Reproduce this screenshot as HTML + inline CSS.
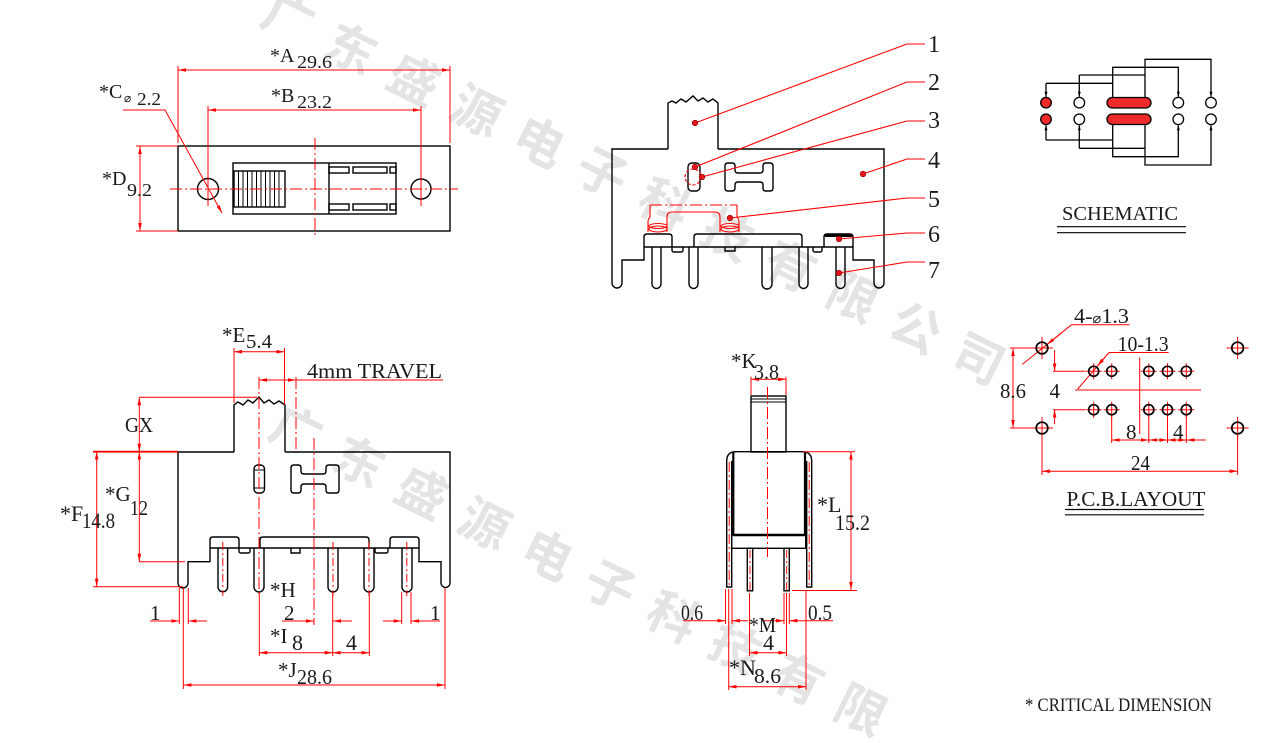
<!DOCTYPE html>
<html><head><meta charset="utf-8">
<style>
html,body{margin:0;padding:0;background:#fff;width:1267px;height:743px;overflow:hidden;}
svg{display:block;}
text{font-family:"Liberation Serif",serif;fill:#1a1a1a;}
.wm{font-family:"Liberation Sans","Noto Sans CJK SC","WenQuanYi Zen Hei",sans-serif;font-weight:700;fill:#e4e4e4;font-size:50px;}
</style></head><body>
<svg width="1267" height="743" viewBox="0 0 1267 743" xmlns="http://www.w3.org/2000/svg" overflow="hidden">
<defs>
<marker id="a" viewBox="0 0 10 6" refX="10" refY="3" markerWidth="8" markerHeight="3.6" markerUnits="userSpaceOnUse" orient="auto-start-reverse" preserveAspectRatio="none"><path d="M0,0L10,3L0,6z" fill="#f00"/></marker>
<marker id="b" viewBox="0 0 10 6" refX="10" refY="3" markerWidth="5" markerHeight="3" markerUnits="userSpaceOnUse" orient="auto-start-reverse" preserveAspectRatio="none"><path d="M0,0L10,3L0,6z" fill="#000"/></marker>
</defs>
<rect width="1267" height="743" fill="#fff"/>

<!-- watermark -->
<text class="wm" transform="translate(258,23) rotate(26.3)" letter-spacing="20">广东盛源电子科技有限公司</text>
<text class="wm" transform="translate(266,436) rotate(26.3)" letter-spacing="20">广东盛源电子科技有限</text>

<!-- ================= TOP LEFT VIEW ================= -->
<g fill="none" stroke="#000" stroke-width="1.4">
<rect x="178" y="146" width="272" height="85"/>
<circle cx="208" cy="189" r="10.5"/>
<circle cx="421" cy="189" r="10"/>
<rect x="233" y="163" width="163" height="51"/>
<line x1="329" y1="163" x2="329" y2="214"/>
<rect x="234" y="171" width="51" height="36"/>
<g stroke-width="1">
<line x1="238.5" y1="171" x2="238.5" y2="207"/>
<line x1="243" y1="171" x2="243" y2="207"/>
<line x1="247.5" y1="171" x2="247.5" y2="207"/>
<line x1="252" y1="171" x2="252" y2="207"/>
<line x1="256.5" y1="171" x2="256.5" y2="207"/>
<line x1="261" y1="171" x2="261" y2="207"/>
<line x1="265.5" y1="171" x2="265.5" y2="207"/>
<line x1="270" y1="171" x2="270" y2="207"/>
<line x1="274.5" y1="171" x2="274.5" y2="207"/>
<line x1="279" y1="171" x2="279" y2="207"/>
</g>
<rect x="329" y="167" width="20" height="6"/>
<rect x="353" y="167" width="34" height="6"/>
<rect x="390" y="167" width="6" height="6"/>
<rect x="329" y="204" width="20" height="6"/>
<rect x="353" y="204" width="34" height="6"/>
<rect x="390" y="204" width="6" height="6"/>
</g>
<g fill="none" stroke="#f00" stroke-width="1">
<line x1="178" y1="70" x2="450" y2="70" marker-start="url(#a)" marker-end="url(#a)"/>
<line x1="178" y1="66" x2="178" y2="143"/>
<line x1="450" y1="66" x2="450" y2="143"/>
<line x1="208" y1="110" x2="421" y2="110" marker-start="url(#a)" marker-end="url(#a)"/>
<line x1="208" y1="106" x2="208" y2="206"/>
<line x1="421" y1="106" x2="421" y2="206"/>
<polyline points="123,110 165,110 222,213" marker-end="url(#a)"/>
<line x1="140" y1="146" x2="140" y2="231" marker-start="url(#a)" marker-end="url(#a)"/>
<line x1="136" y1="146" x2="178" y2="146"/>
<line x1="136" y1="231" x2="178" y2="231"/>
<line x1="170" y1="189" x2="458" y2="189" stroke-dasharray="12,3,2,3"/>
<line x1="315" y1="138" x2="315" y2="238" stroke-dasharray="12,3,2,3"/>
</g>
<text x="270" y="62" font-size="20">*A</text>
<text x="297" y="68" font-size="18" textLength="35" lengthAdjust="spacingAndGlyphs">29.6</text>
<text x="271" y="102" font-size="20">*B</text>
<text x="297" y="108" font-size="18" textLength="35" lengthAdjust="spacingAndGlyphs">23.2</text>
<text x="99" y="98" font-size="20">*C</text>
<text x="124" y="102" font-size="12">⌀</text>
<text x="137" y="105" font-size="18" textLength="24" lengthAdjust="spacingAndGlyphs">2.2</text>
<text x="102" y="185" font-size="20">*D</text>
<text x="127" y="196" font-size="18" textLength="25" lengthAdjust="spacingAndGlyphs">9.2</text>

<!-- ================= TOP MIDDLE VIEW ================= -->
<g fill="none" stroke="#000" stroke-width="1.4">
<path d="M668,149 H612 V283 A5,5 0 0 0 622,283 V260 H644 V247"/>
<path d="M644,247 V237 Q644,234 647,234 H669 Q672,234 672,237 V247"/>
<path d="M644,247 H853"/>
<path d="M672,247 V250 Q672,252 674,252 H681 Q683,252 683,250 V247"/>
<path d="M694,247 V237 Q694,234 697,234 H799 Q802,234 802,237 V247"/>
<path d="M725,247 V251 H735 V247"/>
<path d="M813,247 V250 Q813,252 815,252 H820 Q822,252 822,250 V247"/>
<path d="M824,247 V237 Q824,234 827,234 H850 Q853,234 853,237 V247"/>
<line x1="825" y1="235.5" x2="852" y2="235.5" stroke-width="3"/>
<path d="M853,247 V260 H874 V283 A5,5 0 0 0 884,283 V149 H718"/>
<path d="M668,149 V103 L672,101 L676,103 L681,99 L686,102 L693,96 L698,101 L703,98 L708,102 L713,99 L718,103 V149"/>
<path d="M652,247 V284 A4.5,4.5 0 0 0 661,284 V247"/>
<path d="M689,247 V284 A4.5,4.5 0 0 0 698,284 V247"/>
<path d="M762,247 V284 A4.5,4.5 0 0 0 772,284 V247"/>
<path d="M799,247 V284 A4.5,4.5 0 0 0 808,284 V247"/>
<path d="M836,247 V284 A4.5,4.5 0 0 0 845,284 V247"/>
<rect x="688" y="163" width="12" height="28" rx="4"/>
<path d="M728,163 H732 Q735,163 735,166 V170 Q735,173 738,173 H760 Q763,173 763,170 V166 Q763,163 766,163 H770 Q773,163 773,166 V188 Q773,191 770,191 H766 Q763,191 763,188 V185 Q763,182 760,182 H738 Q735,182 735,185 V188 Q735,191 732,191 H728 Q725,191 725,188 V166 Q725,163 728,163 Z"/>
</g>
<g fill="none" stroke="#f00" stroke-width="1.1">
<path d="M648,232 V222 Q648,219 650,217 V205"/>
<path d="M737,205 V217 Q739,219 739,222 V232"/>
<line x1="650" y1="205" x2="737" y2="205" stroke-dasharray="12,3,2,3"/>
<path d="M667,232 V217 Q667,212 672,212 H715 Q720,212 720,217 V232"/>
<ellipse cx="658" cy="229" rx="9" ry="3"/>
<ellipse cx="658" cy="226" rx="9" ry="2.5"/>
<ellipse cx="730" cy="229" rx="9" ry="3"/>
<ellipse cx="730" cy="226" rx="9" ry="2.5"/>
<circle cx="693" cy="177" r="8" stroke-dasharray="3,2"/>
<polyline points="695,123 907,44 925,44"/>
<polyline points="695,167 907,82 925,82"/>
<polyline points="702,177 907,121 925,121"/>
<polyline points="863,174 907,159 925,159"/>
<polyline points="730,218 907,198 925,198"/>
<polyline points="839,239 907,233 925,233"/>
<polyline points="839,273 907,262 925,262"/>
</g>
<g fill="#e8141c" stroke="#800" stroke-width="0.6">
<circle cx="695" cy="123" r="2.8"/>
<circle cx="695" cy="167" r="2.8"/>
<circle cx="702" cy="177" r="2.8"/>
<circle cx="863" cy="174" r="2.8"/>
<circle cx="730" cy="218" r="2.8"/>
<circle cx="839" cy="239" r="2.8"/>
<circle cx="839" cy="273" r="2.8"/>
</g>
<g font-size="24">
<text x="928" y="52">1</text>
<text x="928" y="90">2</text>
<text x="928" y="128">3</text>
<text x="928" y="168">4</text>
<text x="928" y="207">5</text>
<text x="928" y="242">6</text>
<text x="928" y="278">7</text>
</g>

<!-- ================= SCHEMATIC ================= -->
<g fill="none" stroke="#000" stroke-width="1.3">
<polyline points="1046,83.3 1112.7,83.3"/>
<line x1="1046" y1="83.3" x2="1046" y2="96.7" marker-end="url(#b)"/>
<polyline points="1112.7,98 1112.7,67.3 1178.3,67.3 1178.3,96.7" marker-end="url(#b)"/>
<polyline points="1079.3,75 1145,75"/>
<line x1="1079.3" y1="75" x2="1079.3" y2="96.7" marker-end="url(#b)"/>
<polyline points="1145,98 1145,59.3 1211,59.3 1211,96.7" marker-end="url(#b)"/>
<polyline points="1046,140 1112.7,140"/>
<line x1="1046" y1="140" x2="1046" y2="125.3" marker-end="url(#b)"/>
<polyline points="1112.7,124 1112.7,156.7 1178.3,156.7 1178.3,125.3" marker-end="url(#b)"/>
<polyline points="1079.3,148.3 1145,148.3"/>
<line x1="1079.3" y1="148.3" x2="1079.3" y2="125.3" marker-end="url(#b)"/>
<polyline points="1145,124 1145,165 1211,165 1211,125.3" marker-end="url(#b)"/>
</g>
<g stroke="#000" stroke-width="1.3">
<circle cx="1046" cy="102.7" r="5.3" fill="#ee2a2a"/>
<circle cx="1046" cy="119.3" r="5.3" fill="#ee2a2a"/>
<circle cx="1079.3" cy="102.7" r="5.3" fill="#fff"/>
<circle cx="1079.3" cy="119.3" r="5.3" fill="#fff"/>
<circle cx="1178.3" cy="102.7" r="5.3" fill="#fff"/>
<circle cx="1178.3" cy="119.3" r="5.3" fill="#fff"/>
<circle cx="1211" cy="102.7" r="5.3" fill="#fff"/>
<circle cx="1211" cy="119.3" r="5.3" fill="#fff"/>
<rect x="1107" y="97.5" width="44" height="10.5" rx="5.2" fill="#ee2a2a"/>
<rect x="1107" y="114" width="44" height="10.5" rx="5.2" fill="#ee2a2a"/>
</g>
<text x="1062" y="220" font-size="20" textLength="116" lengthAdjust="spacingAndGlyphs">SCHEMATIC</text>
<g stroke="#000" stroke-width="1.2">
<line x1="1057" y1="226.7" x2="1186" y2="226.7"/>
<line x1="1057" y1="232.7" x2="1186" y2="232.7"/>
</g>

<!-- ================= BOTTOM LEFT VIEW ================= -->
<g fill="none" stroke="#000" stroke-width="1.4">
<path d="M234,452 H178 V583 A4.5,4.5 0 0 0 188,583 V561.7 H210 V548"/>
<path d="M210,548 V540 Q210,537 213,537 H236 Q239,537 239,540 V548"/>
<path d="M210,548 H419"/>
<path d="M239,548 V551 Q239,553 241,553 H248 Q250,553 250,551 V548"/>
<path d="M260,548 V540 Q260,537 263,537 H366 Q369,537 369,540 V548"/>
<path d="M291,548 V553 H300 V548"/>
<path d="M375,548 V551 Q375,553 377,553 H386 Q388,553 388,551 V548"/>
<path d="M390,548 V540 Q390,537 393,537 H416 Q419,537 419,540 V548"/>
<path d="M419,548 V561.7 H441 V583 A4.5,4.5 0 0 0 450,583 V452 H285"/>
<path d="M234,452 V405 L238,402 L243,405 L248,400 L253,403 L259,397 L264,403 L269,400 L274,404 L279,401 L285,405 V452"/>
<path d="M218,548 V587 A4.8,4.8 0 0 0 227.6,587 V548"/>
<path d="M254,548 V587 A5,5 0 0 0 264,587 V548"/>
<path d="M328,548 V587 A5,5 0 0 0 338,587 V548"/>
<path d="M364,548 V587 A5,5 0 0 0 374,587 V548"/>
<path d="M402,548 V587 A5,5 0 0 0 412,587 V548"/>
<rect x="254" y="465" width="10.5" height="28" rx="4"/>
<line x1="254" y1="470" x2="264.5" y2="470" stroke-width="1"/>
<line x1="254" y1="488" x2="264.5" y2="488" stroke-width="1"/>
<path d="M294,465 H298 Q301,465 301,468 V471 Q301,474 304,474 H323 Q326,474 326,471 V468 Q326,465 329,465 H336 Q339,465 339,468 V490 Q339,493 336,493 H329 Q326,493 326,490 V487 Q326,484 323,484 H304 Q301,484 301,487 V490 Q301,493 298,493 H294 Q291,493 291,490 V468 Q291,465 294,465 Z"/>
</g>
<g fill="none" stroke="#f00" stroke-width="1">
<line x1="314" y1="438" x2="314" y2="625" stroke-dasharray="12,3,2,3"/>
<line x1="222.8" y1="542" x2="222.8" y2="596" stroke-dasharray="8,3,2,3"/>
<line x1="333" y1="542" x2="333" y2="596" stroke-dasharray="8,3,2,3"/>
<line x1="369" y1="542" x2="369" y2="596" stroke-dasharray="8,3,2,3"/>
<line x1="406.8" y1="542" x2="406.8" y2="596" stroke-dasharray="8,3,2,3"/>
<line x1="259" y1="377" x2="259" y2="596" stroke-dasharray="12,3,2,3"/>
<line x1="296" y1="377" x2="296" y2="452" stroke-dasharray="12,3,2,3"/>
<line x1="234" y1="351.7" x2="284.5" y2="351.7" marker-start="url(#a)" marker-end="url(#a)"/>
<line x1="234" y1="348" x2="234" y2="403"/>
<line x1="284.5" y1="348" x2="284.5" y2="405"/>
<line x1="259" y1="380" x2="296" y2="380" marker-start="url(#a)" marker-end="url(#a)"/>
<line x1="296" y1="380" x2="443" y2="380"/>
<line x1="139.3" y1="397.3" x2="139.3" y2="451.7" marker-start="url(#a)" marker-end="url(#a)"/>
<line x1="139.3" y1="397.3" x2="257" y2="397.3"/>
<line x1="139.3" y1="451.7" x2="139.3" y2="561.7" marker-start="url(#a)" marker-end="url(#a)"/>
<line x1="139.3" y1="561.7" x2="185" y2="561.7"/>
<line x1="93" y1="451.7" x2="178" y2="451.7" stroke-width="1.8"/>
<line x1="96.7" y1="451.7" x2="96.7" y2="586.7" marker-start="url(#a)" marker-end="url(#a)"/>
<line x1="93" y1="586.7" x2="183" y2="586.7"/>
<line x1="150" y1="621" x2="179.3" y2="621" marker-end="url(#a)"/>
<line x1="188.3" y1="621" x2="207" y2="621" marker-start="url(#a)"/>
<line x1="179.3" y1="588" x2="179.3" y2="624"/>
<line x1="188.3" y1="588" x2="188.3" y2="624"/>
<line x1="183.3" y1="588" x2="183.3" y2="689"/>
<line x1="445" y1="588" x2="445" y2="689"/>
<line x1="183.3" y1="685" x2="445" y2="685" marker-start="url(#a)" marker-end="url(#a)"/>
<line x1="383" y1="621" x2="401.7" y2="621" marker-end="url(#a)"/>
<line x1="411" y1="621" x2="440" y2="621" marker-start="url(#a)"/>
<line x1="401.7" y1="592" x2="401.7" y2="624"/>
<line x1="411" y1="592" x2="411" y2="624"/>
<line x1="282" y1="621" x2="314" y2="621" marker-end="url(#a)"/>
<line x1="333" y1="621" x2="352" y2="621" marker-start="url(#a)"/>
<line x1="259.3" y1="592" x2="259.3" y2="656"/>
<line x1="332.7" y1="592" x2="332.7" y2="656"/>
<line x1="369.3" y1="592" x2="369.3" y2="656"/>
<line x1="259.3" y1="652.7" x2="332.7" y2="652.7" marker-start="url(#a)" marker-end="url(#a)"/>
<line x1="332.7" y1="652.7" x2="369.3" y2="652.7" marker-start="url(#a)" marker-end="url(#a)"/>
</g>
<g font-size="21">
<text x="222" y="342">*E</text>
<text x="246" y="348" font-size="20" textLength="26" lengthAdjust="spacingAndGlyphs">5.4</text>
<text x="307" y="378" textLength="135" lengthAdjust="spacingAndGlyphs">4mm  TRAVEL</text>
<text x="125" y="432" textLength="28" lengthAdjust="spacingAndGlyphs">GX</text>
<text x="105" y="501">*G</text>
<text x="130" y="515" textLength="18" lengthAdjust="spacingAndGlyphs">12</text>
<text x="60" y="521" font-size="22">*F</text>
<text x="82" y="528" font-size="22" textLength="33" lengthAdjust="spacingAndGlyphs">14.8</text>
<text x="270" y="597">*H</text>
<text x="284" y="620">2</text>
<text x="150" y="620">1</text>
<text x="430" y="620">1</text>
<text x="270" y="643">*I</text>
<text x="292" y="650" font-size="22">8</text>
<text x="346" y="650" font-size="22">4</text>
<text x="278" y="677">*J</text>
<text x="297" y="684" textLength="35" lengthAdjust="spacingAndGlyphs">28.6</text>
</g>

<!-- ================= BOTTOM MIDDLE VIEW ================= -->
<g fill="none" stroke="#000" stroke-width="1.4">
<rect x="751" y="396" width="35" height="56"/>
<line x1="751" y1="399" x2="786" y2="399" stroke-width="1"/>
<line x1="751" y1="402" x2="786" y2="402" stroke-width="1"/>
<line x1="735" y1="451.7" x2="803" y2="451.7"/>
<line x1="733.3" y1="452" x2="733.3" y2="535" stroke-width="2.2"/>
<line x1="805" y1="452" x2="805" y2="535" stroke-width="2.2"/>
<line x1="733" y1="535" x2="805" y2="535" stroke-width="2.6"/>
<rect x="731.7" y="535" width="74" height="13.3"/>
<path d="M736,451.7 Q726.7,451.7 726.7,461 V587 H731.7 V461"/>
<path d="M802,451.7 Q811.7,451.7 811.7,461 V587 H806.7 V461"/>
<rect x="747.3" y="548.3" width="5.4" height="42.5"/>
<rect x="784" y="548.3" width="5.3" height="42.5"/>
</g>
<g fill="none" stroke="#f00" stroke-width="1">
<line x1="767.5" y1="387" x2="767.5" y2="557" stroke-dasharray="12,3,2,3"/>
<line x1="729.2" y1="462" x2="729.2" y2="585" stroke-dasharray="10,3,2,3"/>
<line x1="809.2" y1="462" x2="809.2" y2="585" stroke-dasharray="10,3,2,3"/>
<line x1="750" y1="550" x2="750" y2="590" stroke-dasharray="8,3,2,3"/>
<line x1="786.7" y1="550" x2="786.7" y2="590" stroke-dasharray="8,3,2,3"/>
<line x1="751" y1="379.3" x2="786" y2="379.3" marker-start="url(#a)" marker-end="url(#a)"/>
<line x1="751" y1="376.7" x2="751" y2="395"/>
<line x1="786" y1="376.7" x2="786" y2="395"/>
<line x1="851" y1="451.7" x2="851" y2="590" marker-start="url(#a)" marker-end="url(#a)"/>
<line x1="803" y1="451.7" x2="855" y2="451.7"/>
<line x1="792" y1="590.5" x2="857" y2="590.5"/>
<line x1="683" y1="620.7" x2="725.5" y2="620.7" marker-end="url(#a)"/>
<line x1="732" y1="620.7" x2="748" y2="620.7" marker-start="url(#a)"/>
<line x1="764" y1="620.7" x2="784" y2="620.7" marker-end="url(#a)"/>
<line x1="789.3" y1="620.7" x2="833" y2="620.7" marker-start="url(#a)"/>
<line x1="725.5" y1="589" x2="725.5" y2="624"/>
<line x1="732" y1="589" x2="732" y2="624"/>
<line x1="728.7" y1="589" x2="728.7" y2="690"/>
<line x1="749.5" y1="593" x2="749.5" y2="656"/>
<line x1="784" y1="593" x2="784" y2="624"/>
<line x1="789.3" y1="593" x2="789.3" y2="624"/>
<line x1="786.5" y1="593" x2="786.5" y2="656"/>
<line x1="806" y1="590" x2="806" y2="690"/>
<line x1="749.5" y1="652.7" x2="786.5" y2="652.7" marker-start="url(#a)" marker-end="url(#a)"/>
<line x1="728.7" y1="686.7" x2="806" y2="686.7" marker-start="url(#a)" marker-end="url(#a)"/>
</g>
<g font-size="21">
<text x="731" y="368">*K</text>
<text x="754" y="379" textLength="25" lengthAdjust="spacingAndGlyphs">3.8</text>
<text x="817" y="512" font-size="22">*L</text>
<text x="835" y="530" font-size="22" textLength="35" lengthAdjust="spacingAndGlyphs">15.2</text>
<text x="681" y="620" font-size="22" textLength="22" lengthAdjust="spacingAndGlyphs">0.6</text>
<text x="808" y="620" font-size="22" textLength="24" lengthAdjust="spacingAndGlyphs">0.5</text>
<text x="749" y="632" textLength="27" lengthAdjust="spacingAndGlyphs">*M</text>
<text x="763" y="650" font-size="22">4</text>
<text x="729" y="675" font-size="22">*N</text>
<text x="754" y="683" textLength="27" lengthAdjust="spacingAndGlyphs">8.6</text>
</g>

<!-- ================= PCB LAYOUT ================= -->
<g fill="none" stroke="#f00" stroke-width="1">
<line x1="1031" y1="348" x2="1053" y2="348"/><line x1="1042" y1="337" x2="1042" y2="359"/>
<line x1="1031" y1="428" x2="1053" y2="428"/><line x1="1042" y1="417" x2="1042" y2="439"/>
<line x1="1226.6" y1="348" x2="1248.6" y2="348"/><line x1="1237.6" y1="337" x2="1237.6" y2="359"/>
<line x1="1226.6" y1="428" x2="1248.6" y2="428"/><line x1="1237.6" y1="417" x2="1237.6" y2="439"/>
<g>
<line x1="1085.7" y1="371.3" x2="1101.7" y2="371.3"/><line x1="1093.7" y1="363.3" x2="1093.7" y2="379.3"/>
<line x1="1103.7" y1="371.3" x2="1119.7" y2="371.3"/><line x1="1111.7" y1="363.3" x2="1111.7" y2="379.3"/>
<line x1="1140.8" y1="371.3" x2="1156.8" y2="371.3"/><line x1="1148.8" y1="363.3" x2="1148.8" y2="379.3"/>
<line x1="1159.5" y1="371.3" x2="1175.5" y2="371.3"/><line x1="1167.5" y1="363.3" x2="1167.5" y2="379.3"/>
<line x1="1178.3" y1="371.3" x2="1194.3" y2="371.3"/><line x1="1186.3" y1="363.3" x2="1186.3" y2="379.3"/>
<line x1="1085.7" y1="409.7" x2="1101.7" y2="409.7"/><line x1="1093.7" y1="401.7" x2="1093.7" y2="417.7"/>
<line x1="1103.7" y1="409.7" x2="1119.7" y2="409.7"/><line x1="1111.7" y1="401.7" x2="1111.7" y2="417.7"/>
<line x1="1140.8" y1="409.7" x2="1156.8" y2="409.7"/><line x1="1148.8" y1="401.7" x2="1148.8" y2="417.7"/>
<line x1="1159.5" y1="409.7" x2="1175.5" y2="409.7"/><line x1="1167.5" y1="401.7" x2="1167.5" y2="417.7"/>
<line x1="1178.3" y1="409.7" x2="1194.3" y2="409.7"/><line x1="1186.3" y1="401.7" x2="1186.3" y2="417.7"/>
</g>
<line x1="1075" y1="390" x2="1201" y2="390"/>
<line x1="1139.7" y1="357.6" x2="1139.7" y2="434"/>
<line x1="1071.6" y1="324.7" x2="1129.5" y2="324.7"/>
<line x1="1071.6" y1="324.7" x2="1022.3" y2="364.4"/>
<line x1="1062" y1="332.5" x2="1047" y2="344.5" marker-end="url(#a)"/>
<line x1="1109" y1="352.5" x2="1168.6" y2="352.5"/>
<line x1="1109" y1="352.5" x2="1077.8" y2="389"/>
<line x1="1104" y1="358.3" x2="1097.5" y2="366" marker-end="url(#a)"/>
<line x1="1013" y1="348" x2="1013" y2="428" marker-start="url(#a)" marker-end="url(#a)"/>
<line x1="1010" y1="348" x2="1036" y2="348"/>
<line x1="1010" y1="428" x2="1036" y2="428"/>
<line x1="1054.6" y1="350" x2="1054.6" y2="371.3" marker-end="url(#a)"/>
<line x1="1054.6" y1="424" x2="1054.6" y2="409.7" marker-end="url(#a)"/>
<line x1="1053" y1="371.3" x2="1085" y2="371.3"/>
<line x1="1053" y1="409.7" x2="1085" y2="409.7"/>
<line x1="1111.7" y1="440" x2="1148.8" y2="440" marker-start="url(#a)" marker-end="url(#a)"/>
<line x1="1148.8" y1="440" x2="1167.5" y2="440" marker-start="url(#a)" marker-end="url(#a)"/>
<line x1="1167.5" y1="440" x2="1186.3" y2="440" marker-start="url(#a)" marker-end="url(#a)"/>
<line x1="1186.3" y1="440" x2="1206" y2="440" marker-start="url(#a)"/>
<line x1="1111.7" y1="415" x2="1111.7" y2="443"/>
<line x1="1148.8" y1="415" x2="1148.8" y2="443"/>
<line x1="1167.5" y1="415" x2="1167.5" y2="443"/>
<line x1="1186.3" y1="415" x2="1186.3" y2="443"/>
<line x1="1042" y1="471.2" x2="1237.6" y2="471.2" marker-start="url(#a)" marker-end="url(#a)"/>
<line x1="1042" y1="434" x2="1042" y2="475"/>
<line x1="1237.6" y1="434" x2="1237.6" y2="475"/>
</g>
<g fill="none" stroke="#000" stroke-width="1.7">
<circle cx="1042" cy="348" r="5.8"/>
<circle cx="1042" cy="428" r="5.8"/>
<circle cx="1237.6" cy="348" r="5.8"/>
<circle cx="1237.6" cy="428" r="5.8"/>
<circle cx="1093.7" cy="371.3" r="5"/>
<circle cx="1111.7" cy="371.3" r="5"/>
<circle cx="1148.8" cy="371.3" r="5"/>
<circle cx="1167.5" cy="371.3" r="5"/>
<circle cx="1186.3" cy="371.3" r="5"/>
<circle cx="1093.7" cy="409.7" r="5"/>
<circle cx="1111.7" cy="409.7" r="5"/>
<circle cx="1148.8" cy="409.7" r="5"/>
<circle cx="1167.5" cy="409.7" r="5"/>
<circle cx="1186.3" cy="409.7" r="5"/>
</g>
<g font-size="21">
<text x="1074" y="323" textLength="55" lengthAdjust="spacingAndGlyphs">4-<tspan font-size="14">⌀</tspan>1.3</text>
<text x="1117.6" y="351" textLength="51" lengthAdjust="spacingAndGlyphs">10-1.3</text>
<text x="1000" y="398" textLength="26" lengthAdjust="spacingAndGlyphs">8.6</text>
<text x="1049.5" y="398">4</text>
<text x="1126" y="439">8</text>
<text x="1173" y="439">4</text>
<text x="1131" y="470" textLength="19" lengthAdjust="spacingAndGlyphs">24</text>
<text x="1066.5" y="506" textLength="139" lengthAdjust="spacingAndGlyphs">P.C.B.LAYOUT</text>
</g>
<g stroke="#000" stroke-width="1.2">
<line x1="1065" y1="509.5" x2="1204" y2="509.5"/>
<line x1="1065" y1="514.8" x2="1204" y2="514.8"/>
</g>
<text x="1025" y="711" font-size="19" textLength="187" lengthAdjust="spacingAndGlyphs">* CRITICAL  DIMENSION</text>
</svg>
</body></html>
